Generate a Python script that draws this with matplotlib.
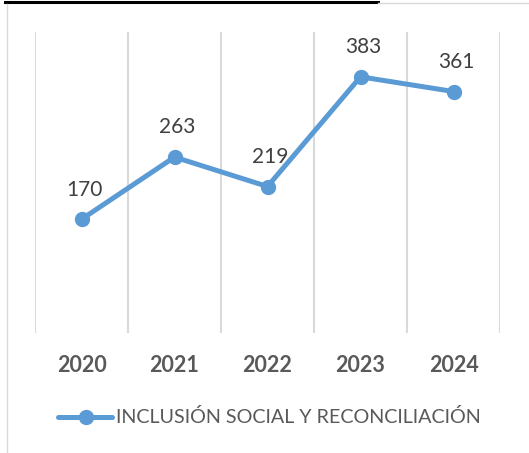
import matplotlib
matplotlib.use("Agg")
import matplotlib.pyplot as plt
from matplotlib.lines import Line2D

years = ["2020", "2021", "2022", "2023", "2024"]
values = [170, 263, 219, 383, 361]
series_name = "INCLUSIÓN SOCIAL Y RECONCILIACIÓN"

W, H = 529, 453
fig = plt.figure(figsize=(W / 100, H / 100), dpi=100)
fig.patch.set_facecolor("white")

# page decorations (cropped document frame)
fig.add_artist(Line2D([5 / W, 378 / W], [1 - 1.5 / H, 1 - 1.5 / H], color="black", lw=2.2))
fig.add_artist(Line2D([378 / W, 1], [1 - 3 / H, 1 - 3 / H], color="#d9d9d9", lw=1.0))
fig.add_artist(Line2D([7 / W, 7 / W], [0, 1 - 4 / H], color="#d9d9d9", lw=1.0))

ax = fig.add_axes([35 / W, 1 - 333 / H, (500 - 35) / W, (333 - 32) / H])
x = list(range(len(years)))
ax.plot(x, values, color="#5B9BD5", lw=3.6, marker="o", markersize=10,
        solid_capstyle="round", zorder=3)
ax.set_xlim(-0.5, len(years) - 0.5)
ax.set_ylim(0, 450)
for b in [i - 0.5 for i in range(len(years) + 1)]:
    ax.axvline(b, color="#d9d9d9", lw=1.5, zorder=1)
for s in ax.spines.values():
    s.set_visible(False)
ax.set_yticks([])
ax.set_xticks(x)
ax.set_xticklabels(years, fontfamily="Lato", fontweight="bold", fontsize=15.5, color="#595959")
ax.tick_params(axis="x", length=0, pad=16)
for xi, v in zip(x, values):
    ax.annotate(str(v), (xi, v), xytext=(2, 17), textcoords="offset points",
                ha="center", va="baseline", fontfamily="Lato", fontsize=15, color="#404040")

# legend
ly = 1 - 417 / H
fig.add_artist(Line2D([58 / W, 112 / W], [ly, ly], color="#5B9BD5", lw=3.6, solid_capstyle="round"))
fig.add_artist(Line2D([86 / W], [ly], color="#5B9BD5", marker="o", markersize=10))
fig.text(116 / W, ly, series_name, ha="left", va="center", fontfamily="Lato",
         fontsize=14.2, color="#595959")

fig.savefig("out.png", dpi=100, facecolor="white")
